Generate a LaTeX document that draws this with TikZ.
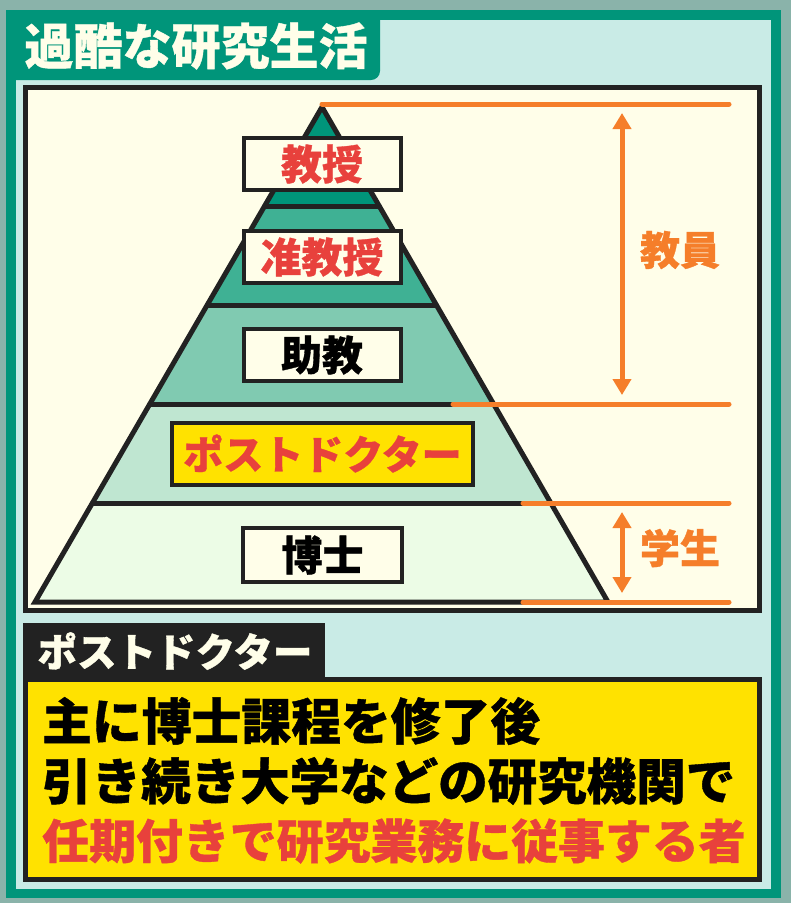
\documentclass[tikz,border=0pt]{standalone}
\usepackage{fontspec}
\setmainfont{Noto Sans CJK JP}[BoldFeatures={FakeBold=0.8}]
\usetikzlibrary{calc,arrows.meta}
\begin{document}
\begin{tikzpicture}[x=1pt,y=-1pt,line cap=round,>={Triangle[width=18pt,length=16pt]}]
    \definecolor{bgray}{HTML}{8AB3AA}
    \definecolor{frame}{HTML}{00957A}
    \definecolor{pale}{HTML}{C9EBE6}
    \definecolor{cream}{HTML}{FFFEE9}
    \definecolor{ink}{HTML}{222222}
    \definecolor{yel}{HTML}{FFE200}
    \definecolor{redtx}{HTML}{E8413C}
    \definecolor{oran}{HTML}{F57E2A}
    \definecolor{lvA}{HTML}{00957A}
    \definecolor{lvB}{HTML}{3FB194}
    \definecolor{lvC}{HTML}{80CAB1}
    \definecolor{lvD}{HTML}{BFE6D1}
    \definecolor{lvE}{HTML}{ECFCE6}
    \tikzset{
        rank/.style={draw=ink,line width=4pt,fill=cream,inner sep=0pt,
            minimum width=157pt,minimum height=52pt,
            font=\fontsize{41}{45}\selectfont\bfseries},
        pyr/.style={draw=ink,line width=5pt,line join=miter},
        tick/.style={draw=oran,line width=5pt},
        span/.style={draw=oran,line width=5pt,<->,shorten <=9pt,shorten >=9pt},
        tag/.style={text=oran,font=\fontsize{40}{44}\selectfont\bfseries},
        body/.style={anchor=west,inner sep=0pt,font=\bfseries}
    }
    \useasboundingbox (0,0) rectangle (791,903);
    %===============================
    \fill[bgray] (0,0) rectangle (791,903);
    \fill[frame] (6,10) rectangle (781,898);
    \fill[pale] (16,20) rectangle (771,889);
    \fill[frame] (6,10) -- (380,10) [rounded corners=9pt]-- (380,80) [sharp corners]-- (6,80) -- cycle;
    \node[text=cream,font=\fontsize{49}{52}\selectfont\bfseries] (title) at (196,46) {過酷な研究生活};
    \draw[ink,fill=cream,line width=5pt,line join=miter] (25.5,87.5) rectangle (759.5,610.5);
    %===============================
    \coordinate (apex) at (322,107);
    \coordinate (bl) at (35,602);
    \coordinate (br) at (608,602);
    \foreach \ta/\tb/\col in {0/.2/lvA,.2/.4/lvB,.4/.6/lvC,.6/.8/lvD,.8/1/lvE}
        \fill[\col] ($(apex)!\ta!(bl)$) -- ($(apex)!\tb!(bl)$) -- ($(apex)!\tb!(br)$) -- ($(apex)!\ta!(br)$) -- cycle;
    \foreach \t in {.2,.4,.6,.8}
        \draw[pyr] ($(apex)!\t!(bl)$) -- ($(apex)!\t!(br)$);
    \draw[pyr] (apex) -- (bl) -- (br) -- cycle;
    
    \node[rank,text=redtx] (prof) at (322,164) {教授};
    \node[rank,text=redtx] (assoc) at (322,257) {准教授};
    \node[rank,text=black] (assist) at (322,355) {助教};
    \node[rank,text=redtx,fill=yel,minimum width=301pt,minimum height=62pt,
        font=\fontsize{40}{44}\selectfont\bfseries] (postdoc) at (322.5,453.5) {ポストドクター};
    \node[rank,text=black,minimum width=159pt,minimum height=54pt] (phd) at (322.5,555) {博士};
    %===============================
    \coordinate (t0) at (322,104);  \coordinate (t0e) at (729,104);
    \coordinate (t1) at (453,404);  \coordinate (t1e) at (729,404);
    \coordinate (t2) at (523,503);  \coordinate (t2e) at (729,503);
    \coordinate (t3) at (523,602);  \coordinate (t3e) at (729,602);
    \draw[tick] (t0) -- (t0e);
    \draw[tick] (t1) -- (t1e);
    \draw[tick] (t2) -- (t2e);
    \draw[tick] (t3) -- (t3e);
    \coordinate (fa) at (622,104);  \coordinate (fb) at (622,404);
    \coordinate (sa) at (622,503);  \coordinate (sb) at (622,602);
    \draw[span] (fa) -- (fb);
    \draw[span] (sa) -- (sb);
    \node[tag] (faculty) at (680,250) {教員};
    \node[tag] (student) at (680,548) {学生};
    %===============================
    \fill[ink] (23,623) rectangle (325,680);
    \node[text=cream,font=\fontsize{39.5}{43}\selectfont\bfseries] (deftitle) at (175,651) {ポストドクター};
    \draw[ink,fill=yel,line width=5pt,line join=miter] (25.5,679.5) rectangle (759.5,879.5);
    \node[body,font=\fontsize{49.8}{52}\selectfont\bfseries] (line1) at (42,721) {主に博士課程を修了後};
    \node[body,font=\fontsize{49.5}{52}\selectfont\bfseries] (line2) at (42,781) {引き続き大学などの研究機関で};
    \node[body,text=redtx,font=\fontsize{46.9}{52}\selectfont\bfseries] (line3) at (42,841) {任期付きで研究業務に従事する者};
\end{tikzpicture}
\end{document}
